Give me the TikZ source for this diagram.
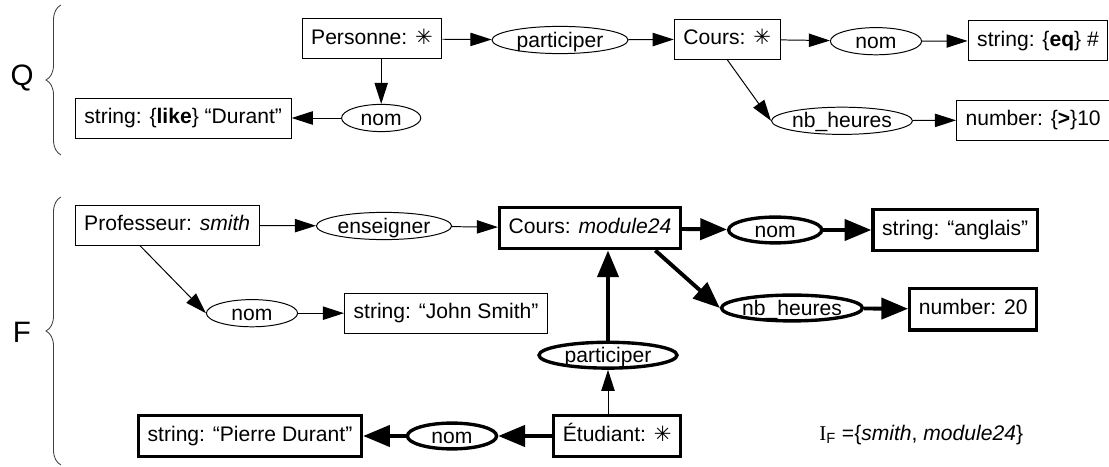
\documentclass[tikz,border=0pt]{standalone}
\usepackage{fontspec}
\setmainfont{Liberation Sans}
\newfontfamily\dejavu{DejaVu Sans}
\newfontfamily\timesI{Liberation Serif}
\newcommand{\etoile}{{\dejavu ✳}}
\usetikzlibrary{arrows.meta,shapes.geometric,decorations.pathreplacing}

\begin{document}
\begin{tikzpicture}[
  font=\fontsize{15}{18}\selectfont,
  lettre/.style={font=\fontsize{21}{25}\selectfont},
  cpt/.style={draw, line width=0.7pt, rectangle, minimum height=1cm, inner xsep=6.5pt, text height=11pt, text depth=3pt},
  cptb/.style={cpt, line width=2.4pt, minimum height=1.04cm},
  rel/.style={draw, line width=0.7pt, ellipse, inner sep=0pt, minimum height=0.68cm, text height=11.5pt, text depth=1.5pt},
  relb/.style={rel, line width=2.4pt, minimum height=0.64cm},
  lien/.style={line width=0.7pt, -{Triangle[length=15pt,width=9.5pt]}},
  lienb/.style={line width=2.8pt, -{Triangle[length=19pt,width=15pt]}},
  accolade/.style={decorate, decoration={brace, amplitude=0.375cm}, line width=0.6pt, black!75}
]

\useasboundingbox (0,0) rectangle (27.725,-11.675);

% requete Q
\node[lettre] (Q) at (0.55,-1.95) {Q};
\coordinate (Qhaut) at (1.525,-0.125);
\coordinate (Qbas) at (1.525,-3.875);
\draw[accolade] (Qbas) -- (Qhaut);

\node[cpt] (personne) at (9.3,-0.97) {Personne: \etoile};
\node[rel, minimum width=3.4cm] (participerQ) at (14.0,-1.0) {participer};
\node[cpt] (coursQ) at (18.18,-0.98) {Cours: \etoile};
\node[rel, minimum width=2.28cm] (nomQ) at (21.9,-1.03) {nom};
\node[cpt] (chaineQ) at (25.95,-1.02) {string: \{\textbf{eq}\} \#};

\node[rel, minimum width=1.98cm] (nomPersQ) at (9.53,-2.95) {nom};
\node[cpt] (durantQ) at (4.58,-2.95) {string: \{\textbf{like}\} “Durant”};
\node[rel, minimum width=3.48cm] (heuresQ) at (21.05,-3.02) {nb\_heures};
\node[cpt] (nombreQ) at (25.83,-3.0) {number: \{\textbf{>}\}10};

\draw[lien] (personne) -- (participerQ);
\draw[lien] (participerQ) -- (coursQ);
\draw[lien] (coursQ) -- (nomQ);
\draw[lien] (nomQ) -- (chaineQ);
\draw[lien] (personne.south -| nomPersQ) -- (nomPersQ);
\draw[lien] (nomPersQ) -- (durantQ);
\draw[lien] (coursQ.south) -- (heuresQ.west);
\draw[lien] (heuresQ) -- (nombreQ);

% fait F
\node[lettre] (F) at (0.55,-8.3) {F};
\coordinate (Fhaut) at (1.525,-4.925);
\coordinate (Fbas) at (1.525,-11.625);
\draw[accolade] (Fbas) -- (Fhaut);

\node[cpt] (professeur) at (4.18,-5.63) {Professeur: \textit{smith}};
\node[rel, minimum width=3.38cm] (enseigner) at (9.6,-5.65) {enseigner};
\node[cptb] (coursF) at (14.75,-5.7) {Cours: \textit{module24}};
\node[relb, minimum width=2.33cm] (nomF) at (19.38,-5.75) {nom};
\node[cptb] (anglais) at (23.88,-5.75) {string: “anglais”};

\node[rel, minimum width=2.28cm] (nomJ) at (6.3,-7.83) {nom};
\node[cpt] (john) at (11.15,-7.83) {string: “John Smith”};
\node[relb, minimum width=3.5cm] (heuresF) at (19.8,-7.7) {nb\_heures};
\node[cptb] (nombreF) at (24.33,-7.73) {number: 20};

\node[relb, minimum width=3.45cm] (participerF) at (15.2,-8.88) {participer};
\node[cptb] (etudiant) at (15.43,-10.9) {Étudiant: \etoile};
\node[relb, minimum width=2.23cm] (nomP) at (11.3,-10.9) {nom};
\node[cptb] (pierre) at (6.25,-10.9) {string: “Pierre Durant”};

\node (IF) at (23.03,-10.88) {{\timesI I}\textsubscript{F} =\{\textit{smith}, \textit{module24}\}};

\draw[lien] (professeur) -- (enseigner);
\draw[lien] (enseigner) -- (coursF);
\draw[lien] (professeur.217) -- (nomJ.west);
\draw[lien] (nomJ) -- (john);
\draw[lienb] (coursF) -- (nomF);
\draw[lienb] (nomF) -- (anglais);
\draw[lienb] (coursF.-19) -- (heuresF.west);
\draw[lienb] (heuresF) -- (nombreF);
\draw[lien] (etudiant.north -| participerF) -- (participerF);
\draw[lienb] (participerF) -- (participerF |- coursF.south);
\draw[lienb] (etudiant) -- (nomP);
\draw[lienb] (nomP) -- (pierre);

\end{tikzpicture}
\end{document}
